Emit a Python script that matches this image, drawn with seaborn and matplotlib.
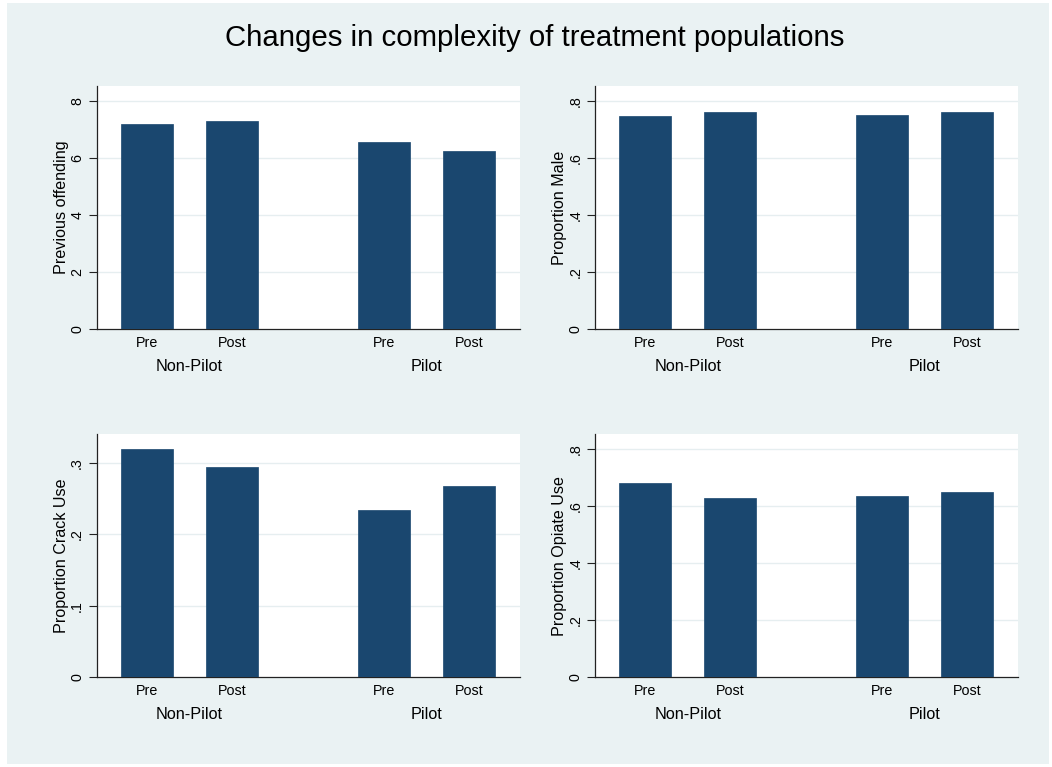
import pandas as pd
import numpy as np
import matplotlib
matplotlib.use("Agg")
import matplotlib.pyplot as plt
import matplotlib.transforms as mtransforms
import seaborn as sns

sns.set_style("white")
plt.rcParams['font.family'] = ['Liberation Sans', 'DejaVu Sans']
plt.rcParams['text.color'] = 'black'
plt.rcParams['axes.labelcolor'] = 'black'
plt.rcParams['xtick.color'] = 'black'
plt.rcParams['ytick.color'] = 'black'

# data
groups = ["Non-Pilot", "Pilot"]
periods = ["Pre", "Post"]
prev_offending = [7.22, 7.31, 6.58, 6.24]
prop_male = [0.750, 0.761, 0.753, 0.761]
prop_crack = [0.3196, 0.2944, 0.2338, 0.2674]
prop_opiate = [0.681, 0.629, 0.635, 0.649]

panel_titles = ["Previous offending", "Proportion Male", "Proportion Crack Use", "Proportion Opiate Use"]
panel_values = [prev_offending, prop_male, prop_crack, prop_opiate]
panel_ticks = [[0, 2, 4, 6, 8], [0, .2, .4, .6, .8], [0, .1, .2, .3], [0, .2, .4, .6, .8]]
panel_ylim = [8.54, 0.854, 0.340, 0.853]

bar_col = "#1a476f"
bg_col = "#eaf2f3"
grid_col = "#e6eef0"

fig = plt.figure(figsize=(10.52, 7.67), dpi=100, facecolor="white")
# stata-ish graph region
fig.patches.append(plt.Rectangle((7/1052, 3/767), 1042/1052, 761/767, transform=fig.transFigure,
                                 facecolor=bg_col, edgecolor="none", zorder=-10))
fig.text(534.5/1052, 1 - 38/767, "Changes in complexity of treatment populations",
         ha="center", va="center", fontsize=21.2)

lefts = [96.7/1052, 595/1052]
bottoms = [1 - 329/767, 1 - 677.3/767]
w, h = 423.3/1052, 243/767

gap = 1.8  # spacing between groups in bar units

def fmt(v):
    s = ("%g" % v)
    if s.startswith("0."):
        s = s[1:]
    return s

for i in range(4):
    r, c = divmod(i, 2)
    ax = fig.add_axes([lefts[c], bottoms[r], w, h])
    ax.set_facecolor("white")
    rows = []
    for gi, g in enumerate(groups):
        for pi, p in enumerate(periods):
            rows.append({"group": g, "period": p, "pos": gi*(1+gap) + pi,
                         "value": panel_values[i][gi*2 + pi]})
    df = pd.DataFrame(rows)
    sns.barplot(data=df, x="pos", y="value", native_scale=True, width=0.614,
                color=bar_col, saturation=1, errorbar=None, ax=ax, zorder=3,
                edgecolor=bar_col, linewidth=0.5)
    ax.set_xlim(-0.595, 4.405)
    ax.set_ylim(0, panel_ylim[i])
    ax.set_xticks(df["pos"])
    ax.set_xticklabels(df["period"], fontsize=10.3)
    ax.tick_params(axis="x", length=0, pad=5)
    ax.set_yticks(panel_ticks[i])
    ax.set_yticklabels([fmt(t) for t in panel_ticks[i]], rotation=90, va="center", fontsize=10.3)
    ax.tick_params(axis="y", length=6, width=0.8, color="#222222", pad=3, left=True)
    for t in panel_ticks[i][1:]:
        ax.axhline(t, color=grid_col, lw=1.0, zorder=1)
    ax.set_xlabel("")
    ax.set_ylabel(panel_titles[i], fontsize=11.6, labelpad=1)
    for s in ["top", "right"]:
        ax.spines[s].set_visible(False)
    for s in ["left", "bottom"]:
        ax.spines[s].set_color("#222222")
        ax.spines[s].set_linewidth(0.9)
    trans = mtransforms.blended_transform_factory(ax.transData, ax.transAxes)
    for gi, g in enumerate(groups):
        ax.text(gi*(1+gap) + 0.5, -0.155, g, transform=trans, ha="center", va="center", fontsize=11.7)

fig.savefig("out.png", dpi=100, facecolor=fig.get_facecolor())
